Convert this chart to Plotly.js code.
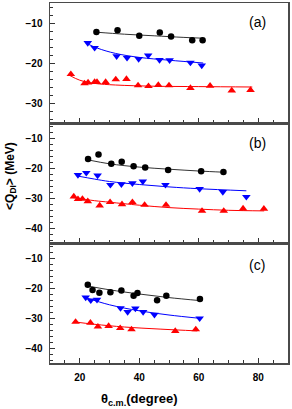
<!DOCTYPE html>
<html>
<head>
<meta charset="utf-8">
<script src="https://cdn.plot.ly/plotly-3.0.1.min.js"></script>
<style>html,body{margin:0;padding:0;background:#fff;}#chart{width:292px;height:409px;}</style>
</head>
<body>
<div id="chart"></div>
<script>
// Panel (a)
const aBlackX = [25.6, 32.7, 40.0, 46.9, 50.7, 57.8, 61.3];
const aBlackY = [-12.25, -11.8, -13.2, -12.4, -13.4, -14.3, -14.3];
const aBlueX = [22.7, 25.0, 32.4, 35.9, 39.8, 43.0, 46.8, 50.2, 57.2, 61.0];
const aBlueY = [-15.0, -16.2, -18.3, -18.7, -19.0, -18.1, -19.25, -19.3, -19.9, -20.6];
const aRedX = [17.0, 21.6, 22.8, 25.0, 25.8, 28.7, 32.1, 35.7, 39.6, 43.1, 46.4, 50.0, 57.2, 63.8, 71.1, 77.4];
const aRedY = [-22.8, -25.1, -24.9, -24.75, -24.75, -24.75, -24.1, -24.0, -25.6, -25.8, -25.5, -25.6, -26.25, -25.7, -26.9, -26.75];
const aBlackFitX = [25.6, 35, 45, 55, 61.5];
const aBlackFitY = [-12.3, -12.8, -13.2, -13.6, -13.8];
const aBlueFitX = [22, 26, 32, 40, 50, 61.5];
const aBlueFitY = [-15.0, -16.3, -17.6, -18.6, -19.3, -20.0];
const aRedFitX = [16.6, 20, 25, 32, 45, 60, 78];
const aRedFitY = [-23.1, -24.3, -25.1, -25.5, -25.8, -25.9, -26.0];

// Panel (b)
const bBlackX = [22.8, 26.3, 30.6, 34.1, 38.1, 42.0, 49.7, 60.8, 68.3];
const bBlackY = [-17.0, -15.5, -18.6, -17.9, -19.45, -19.8, -20.7, -21.1, -21.3];
const bBlueX = [19.4, 22.2, 26.0, 30.3, 34.0, 37.7, 41.2, 48.8, 60.3, 68.1, 76.0];
const bBlueY = [-22.3, -21.6, -22.5, -25.6, -25.4, -25.05, -24.5, -25.6, -27.0, -28.0, -29.6];
const bRedX = [18.0, 19.4, 20.9, 22.7, 26.7, 30.2, 34.2, 37.7, 41.8, 49.0, 61.1, 68.4, 74.9, 81.9];
const bRedY = [-29.5, -30.4, -30.3, -31.1, -32.5, -31.4, -32.1, -31.4, -32.3, -32.3, -34.3, -34.3, -33.5, -33.6];
const bBlackFitX = [22.8, 30, 40, 50, 60, 68.3];
const bBlackFitY = [-17.3, -18.6, -19.7, -20.4, -21.0, -21.4];
const bBlueFitX = [19.4, 25, 30, 40, 50, 60, 76];
const bBlueFitY = [-22.7, -23.7, -24.5, -25.5, -26.3, -26.9, -27.6];
const bRedFitX = [17.4, 25, 30, 40, 50, 60, 70, 82];
const bRedFitY = [-29.8, -30.9, -31.4, -32.4, -33.2, -33.7, -34.1, -34.3];

// Panel (c)
const cBlackX = [22.7, 24.3, 26.6, 30.3, 34.0, 38.1, 39.4, 46.0, 49.1, 60.4];
const cBlackY = [-18.9, -20.65, -21.6, -21.4, -20.8, -22.6, -21.7, -24.1, -22.6, -23.7];
const cBlueX = [22.0, 23.7, 25.8, 33.7, 36.1, 38.7, 41.3, 45.1, 60.3];
const cBlueY = [-23.15, -24.1, -23.9, -26.7, -28.0, -26.8, -28.0, -28.9, -30.1];
const cRedX = [18.6, 23.6, 26.1, 29.7, 33.6, 37.4, 52.1, 59.0];
const cRedY = [-31.3, -31.6, -32.9, -32.7, -33.4, -33.8, -34.35, -33.8];
const cBlackFitX = [22.5, 30, 40, 50, 60.4];
const cBlackFitY = [-19.3, -20.6, -22.0, -23.2, -24.2];
const cBlueFitX = [21.9, 30, 40, 50, 60.3];
const cBlueFitY = [-23.2, -25.6, -27.6, -29.0, -30.1];
const cRedFitX = [18.2, 25, 35, 47, 59.5];
const cRedFitY = [-31.3, -32.1, -33.0, -33.7, -34.3];

const panelLabels = ['(a)', '(b)', '(c)'];
const xTickVals = [20, 40, 60, 80];
const xTitle = '<b>θ<sub>c.m.</sub>(degree)</b>';
const yTitle = '<b>&lt;Q<sub>DI</sub>&gt; (MeV)</b>';

const colors = {black: '#000000', blue: '#0000ff', red: '#ff0000'};
const markerSpec = {
  black: {symbol: 'circle', size: 6.5},
  blue: {symbol: 'triangle-down', size: 7.5},
  red: {symbol: 'triangle-up', size: 7.5}
};

const panels = [
  {xa: 'x', ya: 'y', sets: [
    ['black', aBlackX, aBlackY, aBlackFitX, aBlackFitY],
    ['blue', aBlueX, aBlueY, aBlueFitX, aBlueFitY],
    ['red', aRedX, aRedY, aRedFitX, aRedFitY]]},
  {xa: 'x2', ya: 'y2', sets: [
    ['black', bBlackX, bBlackY, bBlackFitX, bBlackFitY],
    ['blue', bBlueX, bBlueY, bBlueFitX, bBlueFitY],
    ['red', bRedX, bRedY, bRedFitX, bRedFitY]]},
  {xa: 'x3', ya: 'y3', sets: [
    ['black', cBlackX, cBlackY, cBlackFitX, cBlackFitY],
    ['blue', cBlueX, cBlueY, cBlueFitX, cBlueFitY],
    ['red', cRedX, cRedY, cRedFitX, cRedFitY]]}
];

const traces = [];
panels.forEach(p => {
  p.sets.forEach(s => {
    const c = colors[s[0]];
    traces.push({x: s[3], y: s[4], xaxis: p.xa, yaxis: p.ya, mode: 'lines',
      line: {color: s[0] === 'black' ? '#333' : c, width: 1, shape: 'spline'}, hoverinfo: 'skip'});
  });
  p.sets.forEach(s => {
    const c = colors[s[0]];
    traces.push({x: s[1], y: s[2], xaxis: p.xa, yaxis: p.ya, mode: 'markers',
      marker: {color: c, symbol: markerSpec[s[0]].symbol, size: markerSpec[s[0]].size, line: {width: 0}}});
  });
});

const tickFont = {family: 'Liberation Sans, Arial, sans-serif', size: 10, color: '#000', weight: 'bold'};
const frame = {showline: true, mirror: true, linecolor: '#4a4a4a', linewidth: 1.5, zeroline: false, showgrid: false};

function xax(anchor, labels) {
  return Object.assign({}, frame, {
    anchor: anchor, range: [10, 90], tickmode: 'array', tickvals: xTickVals,
    ticks: 'inside', ticklen: 5, tickwidth: 1, tickcolor: '#333',
    minor: {dtick: 5, tick0: 0, ticks: 'inside', ticklen: 3, tickwidth: 1, tickcolor: '#333'},
    showticklabels: labels, tickfont: tickFont, ticklabelstandoff: 4
  });
}
function yax(anchor, domain, range, vals) {
  return Object.assign({}, frame, {
    anchor: anchor, domain: domain, range: range, tickmode: 'array', tickvals: vals,
    ticks: 'inside', ticklen: 5, tickwidth: 1, tickcolor: '#333',
    minor: {dtick: 2, tick0: 0, ticks: 'inside', ticklen: 3, tickwidth: 1, tickcolor: '#333'},
    tickfont: tickFont, ticklabelstandoff: 4
  });
}

const annFont = {family: 'Liberation Sans, Arial', size: 14, color: '#000'};
const layout = {
  width: 292, height: 409,
  margin: {l: 50, r: 4, t: 3, b: 46},
  paper_bgcolor: '#fff', plot_bgcolor: '#fff',
  showlegend: false,
  xaxis: xax('y', false),
  xaxis2: xax('y2', false),
  xaxis3: xax('y3', true),
  yaxis: yax('x', [2/3, 1], [-35, -5], [-10, -20, -30]),
  yaxis2: yax('x2', [1/3, 2/3], [-45, -5], [-10, -20, -30, -40]),
  yaxis3: yax('x3', [0, 1/3], [-45, -5], [-10, -20, -30, -40]),
  annotations: [
    {text: panelLabels[0], xref: 'paper', yref: 'paper', x: 0.87, y: 0.947, xanchor: 'center', yanchor: 'middle', showarrow: false, font: annFont},
    {text: panelLabels[1], xref: 'paper', yref: 'paper', x: 0.87, y: 0.611, xanchor: 'center', yanchor: 'middle', showarrow: false, font: annFont},
    {text: panelLabels[2], xref: 'paper', yref: 'paper', x: 0.87, y: 0.272, xanchor: 'center', yanchor: 'middle', showarrow: false, font: annFont},
    {text: xTitle, xref: 'paper', yref: 'paper', x: 0.374, y: -0.1, xanchor: 'center', yanchor: 'middle', showarrow: false, font: {family: 'Liberation Sans, Arial', size: 13, color: '#000'}},
    {text: yTitle, xref: 'paper', yref: 'paper', x: -0.165, y: 0.519, xanchor: 'center', yanchor: 'middle', textangle: -90, showarrow: false, font: {family: 'Liberation Sans, Arial', size: 12, color: '#000'}}
  ]
};

Plotly.newPlot('chart', traces, layout, {displayModeBar: false, staticPlot: true});
</script>
</body>
</html>
